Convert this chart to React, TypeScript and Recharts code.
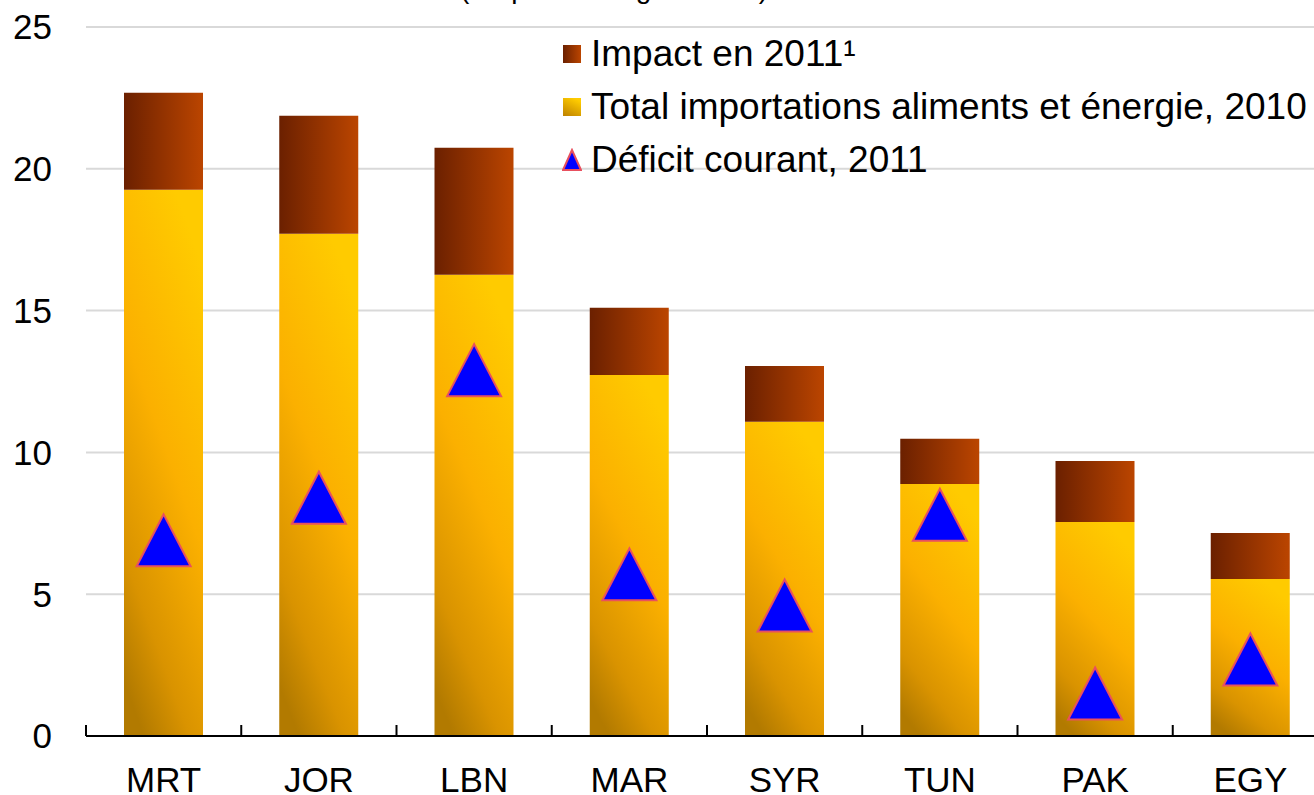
import { ComposedChart, Bar, Line, XAxis, YAxis, CartesianGrid } from 'recharts'

const countries = ['MRT', 'JOR', 'LBN', 'MAR', 'SYR', 'TUN', 'PAK', 'EGY']
const imports2010 = [19.26, 17.71, 16.26, 12.73, 11.08, 8.89, 7.55, 5.54]
const impact2011 = [3.42, 4.16, 4.48, 2.37, 1.97, 1.59, 2.15, 1.62]
const deficit2011 = [6.9, 8.4, 12.9, 5.7, 4.6, 7.8, 1.5, 2.7]
const yTicks = [0, 5, 10, 15, 20, 25]

const data = countries.map((c, i) => ({
  country: c,
  imports: imports2010[i],
  impact: impact2011[i],
  deficit: deficit2011[i],
}))

const FONT = '"Liberation Sans", Arial, sans-serif'

function Triangle({ cx, cy }: any) {
  if (cx == null || cy == null) return null
  return (
    <polygon
      points={`${cx},${cy - 26} ${cx - 27},${cy + 26} ${cx + 27},${cy + 26}`}
      fill="#0000ff"
      stroke="#e8505e"
      strokeWidth={2}
    />
  )
}

function CountryTick({ x, y, payload }: any) {
  const half = payload?.offset ?? 0
  return (
    <g>
      <line x1={x - half} y1={y} x2={x - half} y2={y - 11} stroke="#000" strokeWidth={2} />
      <text x={x} y={y + 56} textAnchor="middle" fontSize={35} fill="#000" fontFamily={FONT}>
        {payload.value}
      </text>
    </g>
  )
}

function ChartLegend() {
  const rows = [
    {
      label: 'Impact en 2011¹',
      icon: (
        <svg width={20} height={20}>
          <rect x={1} y={1} width={18} height={18} fill="url(#lgImpact)" />
        </svg>
      ),
    },
    {
      label: 'Total importations aliments et énergie, 2010',
      icon: (
        <svg width={20} height={20}>
          <rect x={1} y={1} width={18} height={18} fill="url(#lgImports)" />
        </svg>
      ),
    },
    {
      label: 'Déficit courant, 2011',
      icon: (
        <svg width={20} height={24}>
          <polygon points="10,2 1,22 19,22" fill="#0000ff" stroke="#e8505e" strokeWidth={2} />
        </svg>
      ),
    },
  ]
  return (
    <div
      style={{
        position: 'absolute',
        left: 562,
        top: 27,
        fontFamily: FONT,
        fontSize: 37,
        color: '#000',
      }}
    >
      <svg width={0} height={0} style={{ position: 'absolute' }}>
        <defs>
          <linearGradient id="lgImpact" x1="0" y1="0" x2="1" y2="0">
            <stop offset="0%" stopColor="#6b2000" />
            <stop offset="100%" stopColor="#bb4500" />
          </linearGradient>
          <linearGradient id="lgImports" x1="0.6" y1="0" x2="0.1" y2="1">
            <stop offset="0%" stopColor="#ffcc00" />
            <stop offset="100%" stopColor="#c08400" />
          </linearGradient>
        </defs>
      </svg>
      {rows.map((r) => (
        <div key={r.label} style={{ display: 'flex', alignItems: 'center', height: 53, whiteSpace: 'nowrap' }}>
          <div style={{ width: 29, display: 'flex', alignItems: 'center' }}>{r.icon}</div>
          <span>{r.label}</span>
        </div>
      ))}
    </div>
  )
}

export default function App() {
  return (
    <div
      style={{
        position: 'absolute',
        left: 0,
        top: 0,
        width: 1314,
        height: 795,
        overflow: 'hidden',
        background: '#fff',
      }}
    >
      <div
        style={{
          position: 'absolute',
          left: 314,
          top: -25,
          width: 600,
          textAlign: 'center',
          fontFamily: FONT,
          fontSize: 28,
          lineHeight: '28px',
        }}
      >
        (En pourcentage du PIB)
      </div>
      <ComposedChart
        width={1330}
        height={795}
        data={data}
        margin={{ top: 27, right: 2, bottom: 0, left: 0 }}
        style={{ position: 'absolute', left: 0, top: 0 }}
      >
        <defs>
          <linearGradient id="gImpact" x1="0" y1="0" x2="1" y2="0">
            <stop offset="0%" stopColor="#6b2000" />
            <stop offset="100%" stopColor="#bb4500" />
          </linearGradient>
          <linearGradient id="gImports" x1="0.65" y1="0" x2="0.25" y2="1">
            <stop offset="0%" stopColor="#ffcb00" />
            <stop offset="45%" stopColor="#fbb000" />
            <stop offset="80%" stopColor="#d99300" />
            <stop offset="100%" stopColor="#b27a00" />
          </linearGradient>
        </defs>
        <CartesianGrid vertical={false} stroke="#d9d9d9" strokeWidth={2} />
        <XAxis
          dataKey="country"
          height={59}
          axisLine={{ stroke: '#000', strokeWidth: 2 }}
          tickLine={false}
          tickSize={0}
          tickMargin={0}
          tick={<CountryTick />}
          interval={0}
        />
        <YAxis
          width={86}
          domain={[0, 25]}
          ticks={yTicks}
          axisLine={false}
          tickLine={false}
          tickSize={0}
          tickMargin={34}
          tick={{ fontSize: 35, fill: '#000', fontFamily: FONT }}
        />
        <Bar dataKey="imports" stackId="a" barSize={79} fill="url(#gImports)" isAnimationActive={false} />
        <Bar dataKey="impact" stackId="a" barSize={79} fill="url(#gImpact)" isAnimationActive={false} />
        <Line
          dataKey="deficit"
          stroke="none"
          dot={<Triangle />}
          activeDot={false}
          isAnimationActive={false}
        />
      </ComposedChart>
      <ChartLegend />
    </div>
  )
}
